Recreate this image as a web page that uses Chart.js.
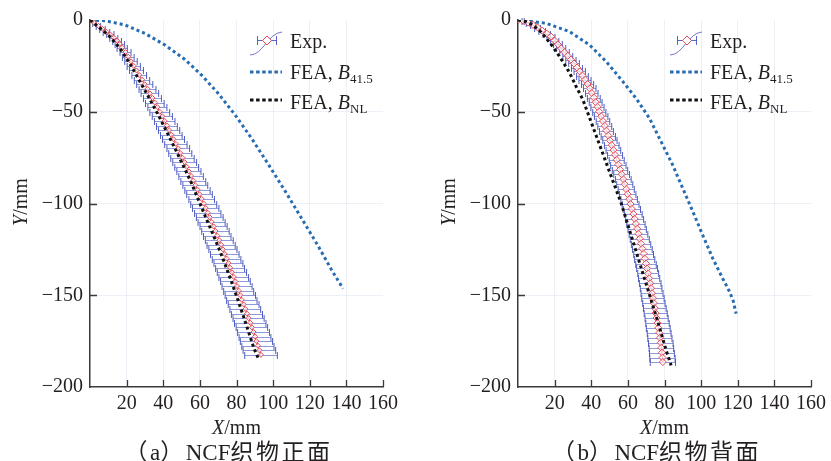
<!DOCTYPE html>
<html>
<head>
<meta charset="utf-8">
<script src="https://cdn.jsdelivr.net/npm/chart.js@4.4.1/dist/chart.umd.min.js"></script>
<style>
  html, body { margin: 0; padding: 0; background: #fff; }
  #wrap { position: relative; width: 831px; height: 461px; overflow: hidden; }
  canvas { position: absolute; top: 0; }
  #left { left: 0; }
  #right { left: 415px; }
</style>
</head>
<body>
<div id="wrap">
  <canvas id="left" width="415" height="461"></canvas>
  <canvas id="right" width="416" height="461"></canvas>
</div>
<script>
// axes
const xTickValues = [0, 20, 40, 60, 80, 100, 120, 140, 160];
const yTickValues = [-200, -150, -100, -50, 0];
const captions = ['（a）NCF织物正面', '（b）NCF织物背面'];

// (a) front face - experiment
const leftExpX = [0, 2.3, 4.6, 6.8, 9.0, 11.1, 13.0, 14.8, 16.3, 17.6,
  19.4, 20.9, 22.4, 23.9, 25.4, 26.9, 28.4, 29.9, 31.4, 32.7,
  34.1, 35.4, 36.8, 38.1, 39.5, 40.8, 42.0, 43.2, 44.4, 45.6,
  46.9, 48.2, 49.3, 50.5, 51.7, 52.8, 54.0, 55.2, 56.4, 57.5,
  58.7, 59.8, 61.0, 62.1, 63.2, 64.3, 65.4, 66.4, 67.5, 68.5,
  69.5, 70.6, 71.6, 72.6, 73.6, 74.6, 75.6, 76.5, 77.5, 78.5,
  79.4, 80.3, 81.2, 82.1, 82.9, 83.9, 84.8, 85.7, 86.6, 87.5,
  88.4, 89.3, 90.1, 90.9, 91.7, 92.5, 93.4];
const leftExpY = [0, -1.6, -3.2, -4.8, -6.4, -7.9, -9.6, -11.3, -13.1, -15.0,
  -17.5, -20, -22.5, -25, -27.5, -30, -32.5, -35, -37.5, -40,
  -42.5, -45, -47.5, -50, -52.5, -55, -57.5, -60, -62.5, -65,
  -67.5, -70, -72.5, -75, -77.5, -80, -82.5, -85, -87.5, -90,
  -92.5, -95, -97.5, -100, -102.5, -105, -107.5, -110, -112.5, -115,
  -117.5, -120, -122.5, -125, -127.5, -130, -132.5, -135, -137.5, -140,
  -142.5, -145, -147.5, -150, -152.5, -155, -157.5, -160, -162.5, -165,
  -167.5, -170, -172.5, -175, -177.5, -180, -182.5];
const leftExpErr = [0, 0.8, 1.2, 1.5, 1.8, 2.0, 2.2, 2.4, 2.6, 2.8,
  3.0, 3.2, 3.4, 3.6, 3.8, 4.0, 4.2, 4.4, 4.6, 4.8,
  4.9, 5.1, 5.2, 5.4, 5.5, 5.6, 5.7, 5.8, 5.9, 6.0,
  6.1, 6.2, 6.3, 6.4, 6.5, 6.5, 6.6, 6.7, 6.8, 6.8,
  6.9, 7.0, 7.0, 7.1, 7.2, 7.2, 7.3, 7.4, 7.4, 7.5,
  7.5, 7.6, 7.7, 7.7, 7.8, 7.8, 7.9, 7.9, 8.0, 8.1,
  8.1, 8.2, 8.2, 8.3, 8.3, 8.4, 8.4, 8.5, 8.5, 8.6,
  8.6, 8.7, 8.7, 8.8, 8.8, 8.9, 8.9];
// (a) FEA
const leftNlX = [0, 5.5, 10, 16.4, 22.2, 27.3, 32.4, 37.3, 41.9, 46.4, 50.8, 55.1, 58.9, 62.7, 66.6, 70.4, 73.9, 77.3, 80.5, 83.6, 86.6, 89.6, 91.8];
const leftNlY = [0, -4.5, -8.2, -15.5, -24.5, -33.6, -42.7, -51.8, -60.9, -70, -79.1, -88.2, -97.3, -106.4, -115.5, -124.5, -133.6, -142.7, -151.8, -160.9, -170, -179.1, -184.2];
const leftB41X = [0, 8.2, 19.1, 30, 40.9, 51.8, 60.9, 70, 79.1, 88.2, 97.3, 106.4, 115.5, 124.5, 131.8, 138.2];
const leftB41Y = [0, -0.4, -2.7, -7.3, -13.6, -21.5, -30.0, -40.0, -51.5, -64.5, -78.5, -93.0, -108.0, -123.0, -136.0, -146.4];

// (b) back face - experiment
const rightExpX = [0, 2.8, 5.5, 8.2, 10.7, 13.2, 15.7, 18.0,
  20.0, 21.8, 23.6, 25.4, 27.2, 28.9, 30.6, 32.2, 33.7, 35.2,
  36.6, 38.0, 39.2, 40.3, 41.4, 42.4, 43.4, 44.4, 45.4, 46.4,
  47.4, 48.3, 49.3, 50.2, 51.2, 52.1, 53.0, 53.9, 54.8, 55.7,
  56.6, 57.5, 58.3, 59.1, 59.9, 60.7, 61.5, 62.2, 63.0, 63.7,
  64.4, 65.1, 65.8, 66.5, 67.2, 67.9, 68.6, 69.2, 69.9, 70.5,
  71.1, 71.6, 72.2, 72.7, 73.2, 73.7, 74.2, 74.7, 75.2, 75.7,
  76.2, 76.6, 77.1, 77.5, 78.0, 78.3, 78.6, 78.9, 79.1];
const rightExpY = [0, -0.4, -1.4, -2.7, -4.1, -5.8, -7.4, -9.0,
  -11.2, -13.3, -15.5, -17.6, -19.5, -21.6, -23.7, -25.9, -28.0, -30.3,
  -32.6, -34.9, -37.3, -39.8, -42.3, -44.8, -47.3, -49.9, -52.5, -55.1,
  -57.7, -60.3, -63.0, -65.6, -68.2, -70.9, -73.5, -76.2, -78.8, -81.5,
  -84.1, -86.8, -89.5, -92.2, -94.9, -97.6, -100.3, -103.0, -105.7, -108.4,
  -111.1, -113.8, -116.5, -119.2, -121.9, -124.6, -127.3, -130.0, -132.7, -135.4,
  -138.1, -140.8, -143.5, -146.2, -148.9, -151.6, -154.3, -157.0, -159.7, -162.4,
  -165.1, -167.8, -170.5, -173.2, -175.9, -178.6, -181.3, -184.0, -186.4];
const rightExpErr = [0, 0.6, 1.0, 1.3, 1.6, 1.8, 2.0, 2.2,
  2.3, 2.4, 2.5, 2.6, 2.7, 2.8, 2.9, 3.0, 3.1, 3.2,
  3.3, 3.3, 3.4, 3.4, 3.5, 3.5, 3.6, 3.6, 3.7, 3.7,
  3.8, 3.8, 3.9, 3.9, 4.0, 4.0, 4.1, 4.1, 4.2, 4.2,
  4.3, 4.3, 4.4, 4.4, 4.5, 4.5, 4.6, 4.7, 4.8, 4.9,
  5.0, 5.0, 5.1, 5.2, 5.3, 5.4, 5.4, 5.5, 5.6, 5.7,
  5.7, 5.8, 5.9, 5.9, 6.0, 6.1, 6.1, 6.2, 6.3, 6.3,
  6.4, 6.5, 6.5, 6.6, 6.7, 6.7, 6.8, 6.9, 6.9];
// (b) FEA
const rightNlX = [0, 4.5, 8.2, 12, 15.5, 18.3, 20.9, 24.2, 27.3, 29.7, 31.8, 33.7, 35.5, 39.2, 42.9, 46.6, 50.3, 54, 56.4, 59.5, 62.6, 65.7, 68.8, 71.9, 75, 78, 80.9, 83.6];
const rightNlY = [0, -0.9, -2.7, -6, -10, -13.6, -17.3, -22.3, -27.3, -31.8, -36.4, -40, -43.6, -53.6, -63.6, -73.6, -83.6, -93.6, -100, -110, -120, -130, -140, -150, -160, -170, -180, -188.2];
const rightB41X = [0, 15.5, 28.2, 39.1, 48.2, 57.3, 64.5, 71.8, 79.1, 84.5, 90, 95.5, 100.9, 106.4, 111.8, 115.5, 117.5, 119.1];
const rightB41Y = [0, -1.8, -6.4, -13.6, -22.7, -33.6, -42.7, -53.6, -68.2, -79.1, -91.8, -104.5, -117.3, -130, -140.9, -148, -153, -160];

const serif = '"Liberation Serif", "Times New Roman", serif';
const capFont = '"Liberation Serif", "Noto Sans CJK SC", serif';
const ink = '#231f20';
const red = 'rgb(226,74,86)';
const blue = 'rgb(38,108,178)';
const black = '#111111';

const pts = (xs, ys) => xs.map((v, i) => ({ x: v, y: ys[i] }));

// draws mixed roman / italic / subscript runs, returns width
function runs(ctx, x, y, parts, measureOnly) {
  let w = 0;
  parts.forEach(p => {
    ctx.font = (p.i ? 'italic ' : '') + (p.s || 20) + 'px ' + serif;
    if (!measureOnly) ctx.fillText(p.t, x + w, y + (p.dy || 0));
    w += ctx.measureText(p.t).width;
  });
  return w;
}

// caption: CJK glyphs get a little extra tracking, latin ones none
function caption(ctx, text, cx, y) {
  ctx.font = '23px ' + capFont;
  const chars = Array.from(text);
  const adv = chars.map(ch => ctx.measureText(ch).width + (ch.charCodeAt(0) > 255 ? 2.5 : 0));
  let x = cx - adv.reduce((a, b) => a + b, 0) / 2;
  chars.forEach((ch, i) => { ctx.fillText(ch, x, y); x += adv[i]; });
}

function makeChart(id, c) {
  const errorBars = {
    id: 'errorBars',
    beforeDatasetsDraw(chart) {
      const { ctx, scales: { x, y } } = chart;
      ctx.save();
      ctx.lineWidth = 1;
      c.expX.forEach((v, i) => {
        const e = c.expErr[i] || 0;
        if (!e) return;
        const py = Math.round(y.getPixelForValue(c.expY[i])) + 0.5;
        const a = x.getPixelForValue(v - e), b = x.getPixelForValue(v + e);
        ctx.strokeStyle = 'rgba(95,110,205,0.7)';
        ctx.beginPath(); ctx.moveTo(a, py); ctx.lineTo(b, py); ctx.stroke();
        ctx.strokeStyle = 'rgba(60,76,185,0.9)';
        ctx.beginPath();
        ctx.moveTo(a, py - 3.5); ctx.lineTo(a, py + 3.5);
        ctx.moveTo(b, py - 3.5); ctx.lineTo(b, py + 3.5);
        ctx.stroke();
      });
      ctx.restore();
    }
  };

  const innerTicks = {
    id: 'innerTicks',
    afterDatasetsDraw(chart) {
      const { ctx, chartArea: ca, scales: { x, y } } = chart;
      ctx.save();
      ctx.strokeStyle = '#3a3a3a';
      ctx.lineWidth = 1.3;
      ctx.beginPath();
      xTickValues.filter(v => v > 0).forEach(v => {
        const px = Math.round(x.getPixelForValue(v)) + 0.5;
        ctx.moveTo(px, ca.bottom); ctx.lineTo(px, ca.bottom - 7);
      });
      yTickValues.filter(v => v > -200 && v < 0).forEach(v => {
        const py = Math.round(y.getPixelForValue(v)) + 0.5;
        ctx.moveTo(ca.left, py); ctx.lineTo(ca.left + 7, py);
      });
      ctx.stroke();
      ctx.restore();
    }
  };

  const texts = {
    id: 'texts',
    afterDraw(chart) {
      const { ctx, chartArea: ca } = chart;
      const mid = (ca.left + ca.right) / 2;
      ctx.save();
      ctx.fillStyle = ink;
      ctx.textBaseline = 'alphabetic';
      ctx.textAlign = 'left';

      // axis titles
      const xt = [{ t: 'X', i: true }, { t: '/mm' }];
      let w = runs(ctx, 0, 0, xt, true);
      runs(ctx, mid - w / 2, 434, xt);
      const yt = [{ t: 'Y', i: true }, { t: '/mm' }];
      w = runs(ctx, 0, 0, yt, true);
      ctx.save();
      ctx.translate(c.yTitleX, 202);
      ctx.rotate(-Math.PI / 2);
      runs(ctx, -w / 2, 7, yt);
      ctx.restore();

      caption(ctx, c.caption, mid - 8, 460);

      // legend
      const lx = c.legendX;
      // Exp. symbol
      ctx.strokeStyle = 'rgba(105,105,200,0.9)';
      ctx.lineWidth = 1;
      ctx.beginPath();
      ctx.moveTo(lx, 55);
      ctx.bezierCurveTo(lx + 13, 55, lx + 18, 33, lx + 32, 32);
      ctx.stroke();
      ctx.strokeStyle = 'rgba(70,88,190,0.9)';
      ctx.beginPath();
      ctx.moveTo(lx + 7, 40.5); ctx.lineTo(lx + 27, 40.5);
      ctx.moveTo(lx + 7.5, 36); ctx.lineTo(lx + 7.5, 45);
      ctx.moveTo(lx + 26.5, 36); ctx.lineTo(lx + 26.5, 45);
      ctx.stroke();
      ctx.fillStyle = '#fff';
      ctx.strokeStyle = red;
      ctx.beginPath();
      ctx.moveTo(lx + 17, 36); ctx.lineTo(lx + 21.5, 40.5);
      ctx.lineTo(lx + 17, 45); ctx.lineTo(lx + 12.5, 40.5); ctx.closePath();
      ctx.fill(); ctx.stroke();
      // FEA samples
      [[blue, 72], [black, 100]].forEach(([col, yy]) => {
        ctx.strokeStyle = col;
        ctx.lineWidth = 3;
        ctx.setLineDash([3.5, 2.6]);
        ctx.beginPath(); ctx.moveTo(lx, yy); ctx.lineTo(lx + 32, yy); ctx.stroke();
      });
      ctx.setLineDash([]);
      ctx.fillStyle = ink;
      runs(ctx, lx + 40, 48, [{ t: 'Exp.' }]);
      runs(ctx, lx + 40, 79, [{ t: 'FEA, ' }, { t: 'B', i: true }, { t: '41.5', s: 13, dy: 4 }]);
      runs(ctx, lx + 40, 109, [{ t: 'FEA, ' }, { t: 'B', i: true }, { t: 'NL', s: 13, dy: 4 }]);
      ctx.restore();
    }
  };

  const faint = ctx => (ctx.tick && (ctx.tick.value === 0 || ctx.tick.value === 160 || ctx.tick.value === -200)) ? 'rgba(0,0,0,0)' : 'rgba(214,222,236,0.45)';

  return new Chart(document.getElementById(id), {
    type: 'scatter',
    data: {
      datasets: [
        {
          label: 'FEA, BNL',
          data: pts(c.nlX, c.nlY),
          showLine: true,
          borderColor: black,
          borderWidth: 3,
          borderDash: [3, 3],
          borderCapStyle: 'butt',
          pointRadius: 0
        },
        {
          label: 'Exp.',
          data: pts(c.expX, c.expY),
          showLine: true,
          borderColor: red,
          borderWidth: 1,
          pointStyle: 'rectRot',
          pointRadius: c.marker,
          pointBorderWidth: 1,
          pointBorderColor: red,
          pointBackgroundColor: 'rgba(255,255,255,0.7)'
        },
        {
          label: 'FEA, B41.5',
          data: pts(c.b41X, c.b41Y),
          showLine: true,
          borderColor: blue,
          borderWidth: 3,
          borderDash: [3, 3],
          borderCapStyle: 'butt',
          pointRadius: 0
        }
      ]
    },
    options: {
      responsive: false,
      animation: false,
      events: [],
      layout: { padding: { top: 20, right: c.padRight, left: 0, bottom: 0 } },
      scales: {
        x: {
          type: 'linear',
          min: 0,
          max: 160,
          afterFit: s => { s.height = 74; },
          afterBuildTicks: s => { s.ticks = xTickValues.map(v => ({ value: v })); },
          ticks: {
            autoSkip: false,
            maxRotation: 0,
            padding: 5,
            color: ink,
            font: { family: serif, size: 20 },
            callback: v => v === 0 ? '' : String(v)
          },
          grid: { color: faint, drawTicks: false, lineWidth: 1 },
          border: { display: true, color: '#3a3a3a', width: 1.5 }
        },
        y: {
          type: 'linear',
          min: -200,
          max: 0,
          afterFit: s => { s.width = c.yWidth; },
          afterBuildTicks: s => { s.ticks = yTickValues.map(v => ({ value: v })); },
          ticks: {
            autoSkip: false,
            padding: 7,
            color: ink,
            font: { family: serif, size: 20 },
            callback: v => v < 0 ? '\u2212' + Math.abs(v) : String(v)
          },
          grid: { color: faint, drawTicks: false, lineWidth: 1 },
          border: { display: true, color: '#3a3a3a', width: 1.5 }
        }
      },
      plugins: {
        legend: { display: false },
        tooltip: { enabled: false }
      }
    },
    plugins: [errorBars, innerTicks, texts]
  });
}

makeChart('left', {
  expX: leftExpX, expY: leftExpY, expErr: leftExpErr,
  nlX: leftNlX, nlY: leftNlY, b41X: leftB41X, b41Y: leftB41Y,
  marker: 2.5, padRight: 32, yWidth: 90, yTitleX: 20, legendX: 250,
  caption: captions[0]
});
makeChart('right', {
  expX: rightExpX, expY: rightExpY, expErr: rightExpErr,
  nlX: rightNlX, nlY: rightNlY, b41X: rightB41X, b41Y: rightB41Y,
  marker: 3.5, padRight: 20, yWidth: 103, yTitleX: 33, legendX: 255,
  caption: captions[1]
});
</script>
</body>
</html>
